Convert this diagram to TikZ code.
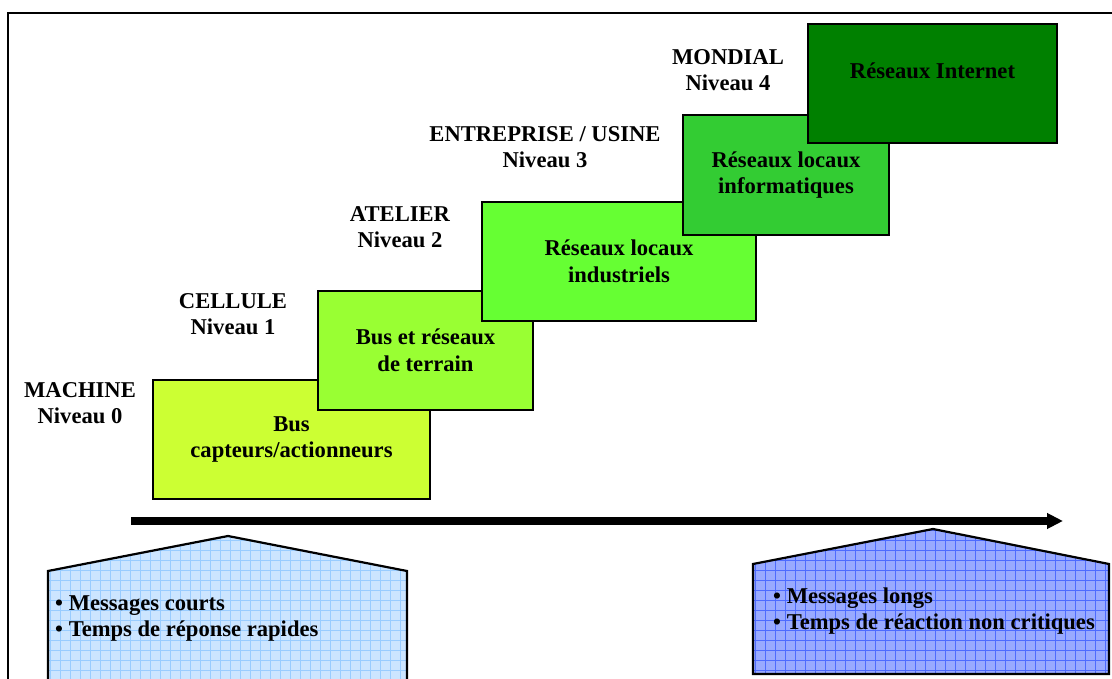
\documentclass[tikz,border=0pt]{standalone}
\usepackage{fontspec}
\setmainfont{Liberation Serif}
\usetikzlibrary{arrows.meta}
\definecolor{c0}{HTML}{CCFF33}
\definecolor{c1}{HTML}{99FF33}
\definecolor{c2}{HTML}{66FF33}
\definecolor{c3}{HTML}{33CC33}
\definecolor{c4}{HTML}{008000}
\definecolor{lfill}{HTML}{CCE5FF}
\definecolor{lgrid}{HTML}{99CCFF}
\definecolor{rfill}{HTML}{99AAFF}
\definecolor{rgrid}{HTML}{4D6BFF}
\tikzset{
  lvlbox/.style={draw=black, line width=2.2pt, minimum height=119pt, inner sep=0pt, align=center,
    font=\fontsize{22.6}{26.5}\selectfont\bfseries},
  lvltext/.style={inner sep=0pt, align=center, font=\fontsize{22.6}{26.5}\selectfont\bfseries},
  bullettext/.style={inner sep=0pt, align=left, anchor=west, font=\fontsize{22.6}{26.5}\selectfont\bfseries},
  frameline/.style={draw=black, line width=1.5pt},
  outline/.style={draw=black, line width=2.2pt, line join=miter}
}
\begin{document}
\begin{tikzpicture}[x=1pt, y=-1pt]
\useasboundingbox (0,0) rectangle (1112,679);
\clip (0,0) rectangle (1112,679);
\fill[white] (0,0) rectangle (1112,679);
% frame
\draw[frameline] (8,720) -- (8,13) -- (1130,13);
% level boxes
\node[lvlbox, fill=c0, minimum width=277pt] (b0) at (291.5,439.5) {Bus\\capteurs/actionneurs};
\node[lvlbox, fill=c1, minimum width=215pt] (b1) at (425.5,350.5) {Bus et réseaux\\de terrain};
\node[lvlbox, fill=c2, minimum width=274pt] (b2) at (619,261.5) {Réseaux locaux\\industriels};
\node[lvlbox, fill=c3, minimum width=206pt, minimum height=120pt] (b3) at (786,175) {Réseaux locaux\\informatiques};
\node[lvlbox, fill=c4, minimum width=249pt] (b4) at (932.5,83.5) {};
\node[lvltext] (t4) at (932.5,71) {Réseaux Internet};
% level labels
\node[lvltext] (l0) at (80,403) {MACHINE\\Niveau 0};
\node[lvltext] (l1) at (233,314) {CELLULE\\Niveau 1};
\node[lvltext] (l2) at (400,227) {ATELIER\\Niveau 2};
\node[lvltext] (l3) at (545,147) {ENTREPRISE / USINE\\Niveau 3};
\node[lvltext] (l4) at (728,70) {MONDIAL\\Niveau 4};
% arrow
\coordinate (as) at (131,521);
\coordinate (ae) at (1063,521);
\draw[line width=7.5pt, -{Triangle[length=16pt,width=15pt]}] (as) -- (ae);
% left pentagon
\begin{scope}
\clip (48,571) -- (228,536) -- (407,571) -- (407,700) -- (48,700) -- cycle;
\fill[lfill] (40,520) rectangle (420,700);
\foreach \gx in {50,60,...,410} \draw[lgrid, line width=0.7pt] (\gx,520) -- (\gx,700);
\foreach \gy in {530,540,...,690} \draw[lgrid, line width=0.7pt] (40,\gy) -- (420,\gy);
\end{scope}
\draw[outline] (48,700) -- (48,571) -- (228,536) -- (407,571) -- (407,700);
% right pentagon
\begin{scope}
\clip (753,564) -- (933,529) -- (1109,564) -- (1109,674) -- (753,674) -- cycle;
\fill[rfill] (740,520) rectangle (1120,680);
\foreach \gx in {755,765,...,1115} \draw[rgrid, line width=0.6pt] (\gx,520) -- (\gx,680);
\foreach \gy in {530,540,...,680} \draw[rgrid, line width=0.6pt] (740,\gy) -- (1120,\gy);
\end{scope}
\draw[outline] (753,564) -- (933,529) -- (1109,564) -- (1109,674) -- (753,674) -- cycle;
% bullet texts
\node[bullettext] (m0) at (55,618.5) {• Messages courts\\• Temps de réponse rapides};
\node[bullettext] (m1) at (773,611) {• Messages longs\\• Temps de réaction non critiques};
\end{tikzpicture}
\end{document}
